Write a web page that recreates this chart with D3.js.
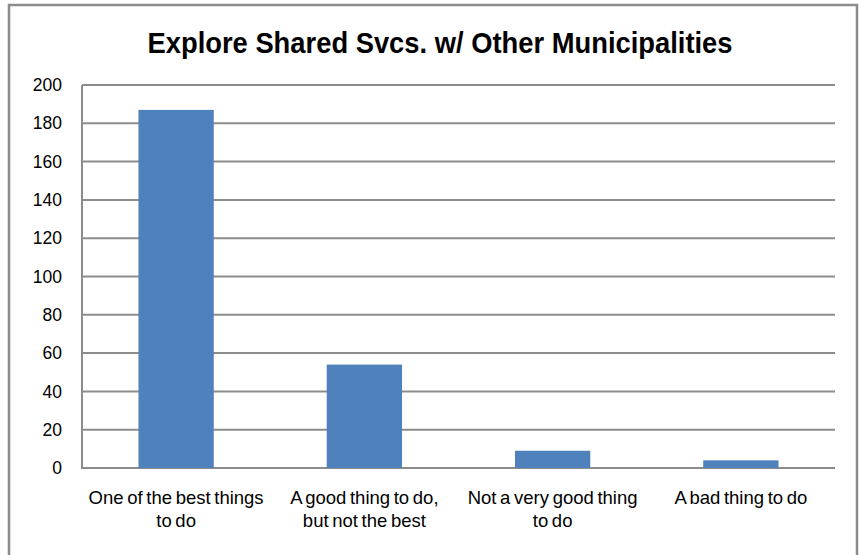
<!DOCTYPE html>
<html>
<head>
<meta charset="utf-8">
<script src="https://cdnjs.cloudflare.com/ajax/libs/d3/7.8.5/d3.min.js"></script>
<style>
  body { margin: 0; background: #fff; }
  svg { display: block; }
</style>
</head>
<body>
<svg id="chart" width="859" height="555"></svg>
<script>
var categories = [
  ["One of the best things", "to do"],
  ["A good thing to do,", "but not the best"],
  ["Not a very good thing", "to do"],
  ["A bad thing to do"]
];
var values = [187, 54, 9, 4];
var yTicks = [0, 20, 40, 60, 80, 100, 120, 140, 160, 180, 200];
var title = "Explore Shared Svcs. w/ Other Municipalities";

var svg = d3.select("#chart"),
    width = +svg.attr("width"),
    height = +svg.attr("height");

var margin = {left: 82, right: 24, top: 85, bottom: 87};
var plotW = width - margin.left - margin.right,
    plotH = height - margin.top - margin.bottom;

// outer frame
svg.append("rect")
    .attr("x", 9).attr("y", 5)
    .attr("width", 848).attr("height", 560)
    .attr("fill", "none")
    .attr("stroke", "#8c8c8c")
    .attr("stroke-width", 2.5);

svg.append("text")
    .attr("x", 440)
    .attr("y", 53)
    .attr("text-anchor", "middle")
    .attr("font-family", "Liberation Sans, Arial, sans-serif")
    .attr("font-weight", "bold")
    .attr("font-size", 30)
    .attr("textLength", 585)
    .attr("lengthAdjust", "spacingAndGlyphs")
    .text(title);

var x = d3.scaleBand()
    .domain(d3.range(categories.length))
    .range([0, plotW])
    .paddingInner(0.6)
    .paddingOuter(0.3);

var y = d3.scaleLinear()
    .domain([0, 200])
    .range([plotH, 0]);

var g = svg.append("g")
    .attr("transform", "translate(" + margin.left + "," + margin.top + ")");

// gridlines
g.append("g")
  .selectAll("line")
  .data(yTicks)
  .enter().append("line")
    .attr("x1", 0)
    .attr("x2", plotW)
    .attr("y1", function(d) { return y(d); })
    .attr("y2", function(d) { return y(d); })
    .attr("stroke", "#8c8c8c")
    .attr("stroke-width", 2);

g.append("g")
  .selectAll("rect")
  .data(values)
  .enter().append("rect")
    .attr("x", function(d, i) { return x(i); })
    .attr("y", function(d) { return y(d); })
    .attr("width", x.bandwidth())
    .attr("height", function(d) { return plotH - y(d); })
    .attr("fill", "#4f81bd");

// left axis line
g.append("line")
    .attr("x1", 0).attr("x2", 0)
    .attr("y1", 0).attr("y2", plotH + 1)
    .attr("stroke", "#8c8c8c")
    .attr("stroke-width", 2);

var yAxis = g.append("g")
    .attr("transform", "translate(-20,0)")
    .call(d3.axisLeft(y).tickValues(yTicks).tickSize(0).tickPadding(0));
yAxis.select(".domain").remove();
yAxis.selectAll("text")
    .attr("font-family", "Liberation Sans, Arial, sans-serif")
    .attr("font-size", 17.5)
    .attr("fill", "#000");

var labels = g.append("g")
  .selectAll("text")
  .data(categories)
  .enter().append("text")
    .attr("text-anchor", "middle")
    .attr("font-family", "Liberation Sans, Arial, sans-serif")
    .attr("font-size", 18.5)
    .attr("word-spacing", -1.5)
    .attr("fill", "#000");

labels.selectAll("tspan")
  .data(function(d, i) { return d.map(function(t) { return {t: t, i: i}; }); })
  .enter().append("tspan")
    .attr("x", function(d) { return x(d.i) + x.bandwidth() / 2; })
    .attr("y", function(d, j) { return plotH + 36 + j * 23; })
    .text(function(d) { return d.t; });
</script>
</body>
</html>
